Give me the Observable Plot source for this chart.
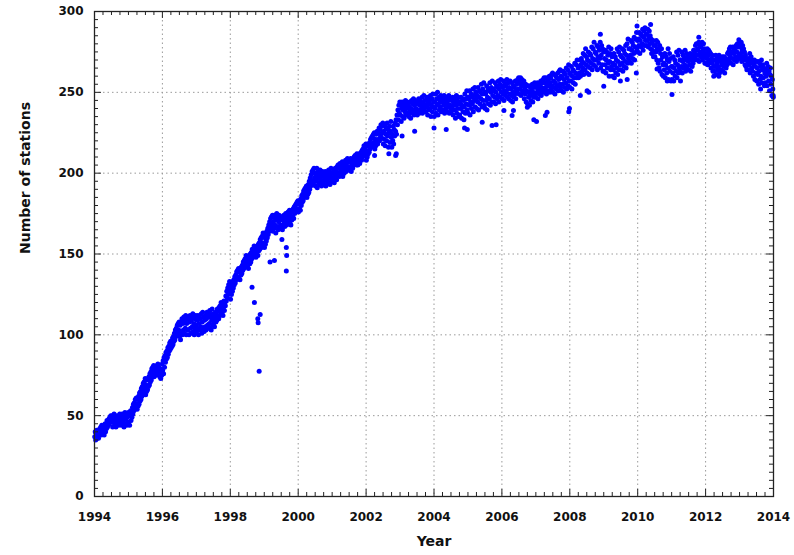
<!DOCTYPE html>
<html>
<head>
<meta charset="utf-8">
<script src="https://cdn.jsdelivr.net/npm/d3@7"></script>
<script src="https://cdn.jsdelivr.net/npm/@observablehq/plot@0.6"></script>
<style>
  html, body { margin: 0; padding: 0; background: #fff; }
</style>
</head>
<body>
<div id="chart"></div>
<script>
// Station counts, 72 readings per year (about every five days), one array per year.
const y1994 = [37,40,35,39,41,36,38,41,36,40,38,42,39,43,38,44,40,42, 41,44,38,43,45,40,44,42,47,43,46,44,48,45,49,46,50,47, 47,50,43,48,46,51,44,49,47,43,48,50,45,49,44,48,46,51, 46,50,44,48,51,45,50,47,43,49,52,45,48,51,44,49,46,52];
const y1995 = [46,51,44,50,53,47,52,49,55,51,57,53,58,54,60,55,61,57, 54,60,56,62,57,64,59,65,60,67,62,68,63,70,65,71,67,73, 63,69,65,72,66,73,68,74,69,76,71,77,72,79,74,80,75,81, 74,78,76,80,75,79,81,77,82,78,80,76,74,79,73,77,75,82];
const y1996 = [78,84,76,86,80,87,83,89,85,90,86,92,88,93,90,95,91,96, 92,96,93,98,94,99,96,101,97,103,99,104,100,106,101,107,103,108, 99,106,97,108,101,110,100,107,103,111,101,109,104,112,100,107,110,103, 103,110,100,108,112,104,109,101,111,105,113,102,107,100,110,104,112,106];
const y1997 = [102,109,104,112,100,107,111,103,110,105,113,101,108,114,104,111,102,109, 105,112,103,110,114,106,111,104,113,107,115,104,111,103,109,116,106,113, 107,112,105,110,114,108,113,109,116,111,115,110,117,112,118,114,120,116, 113,119,112,117,121,115,120,118,124,121,127,123,129,125,131,127,133,129];
const y1998 = [122,128,125,131,127,133,129,134,131,136,132,137,134,139,135,140,136,141, 135,139,134,140,137,142,138,143,140,145,141,146,142,147,144,149,145,148, 142,147,141,146,149,144,150,145,151,147,153,148,152,149,155,150,154,151, 148,153,150,155,149,156,152,157,153,159,155,160,154,161,157,163,156,162];
const y1999 = [154,160,156,163,158,164,160,166,162,168,164,170,166,172,165,173,168,174, 164,170,166,174,168,172,163,171,175,167,173,165,170,174,166,172,168,173, 166,171,165,173,168,174,169,167,172,175,170,168,174,171,176,169,173,177, 169,174,168,176,171,177,173,178,172,179,175,180,176,181,177,182,178,183];
const y2000 = [176,181,178,183,177,184,180,186,182,187,183,189,185,190,186,191,188,192, 185,190,187,193,188,195,190,197,192,199,193,201,195,202,194,203,197,200, 192,199,195,203,191,197,201,194,199,193,202,196,200,192,198,201,194,199, 193,198,196,201,192,197,200,195,199,194,202,197,201,193,198,203,196,200];
const y2001 = [195,200,197,202,194,199,203,198,201,196,204,199,205,200,203,198,206,201, 199,204,201,207,198,203,206,200,205,202,208,201,206,203,209,204,207,202, 202,207,204,209,201,206,208,203,207,205,210,206,211,207,209,205,212,208, 205,210,207,212,206,211,209,213,208,214,210,215,212,217,211,216,213,218];
const y2002 = [208,214,210,217,212,218,213,219,215,221,216,222,217,223,218,224,219,225, 215,221,217,224,219,226,218,225,221,228,220,227,223,230,222,229,225,231, 218,226,221,230,217,224,228,220,231,223,227,216,225,229,219,226,232,222, 216,224,220,229,218,227,223,231,226,233,224,236,230,239,233,242,237,244];
const y2003 = [236,242,232,240,244,235,239,243,234,241,238,245,236,242,240,244,237,243, 235,241,238,244,234,240,245,237,243,239,246,236,242,238,245,240,244,237, 236,243,239,246,237,242,245,238,244,240,247,237,243,241,248,239,245,242, 238,245,241,247,236,243,246,239,244,240,248,235,242,246,238,249,241,244];
const y2004 = [235,244,240,249,237,246,242,250,236,243,247,239,245,241,248,238,244,246, 239,245,242,248,237,244,246,240,247,238,243,245,241,248,237,242,246,240, 238,245,241,247,236,243,246,239,244,234,242,248,237,245,240,247,235,243, 236,244,240,247,234,242,246,238,245,233,241,249,237,246,243,251,239,247];
const y2005 = [237,246,242,251,236,244,249,240,247,243,252,238,248,245,253,241,250,246, 240,248,244,253,239,247,251,243,250,246,255,241,249,252,245,256,242,250, 240,249,245,254,239,247,252,243,251,246,256,242,250,253,244,257,248,252, 244,251,247,256,243,250,254,246,253,248,257,244,252,255,247,258,250,254];
const y2006 = [246,253,249,257,245,251,255,248,254,250,258,247,252,256,246,253,249,257, 245,252,248,256,244,250,254,247,253,249,257,246,251,255,250,258,252,259, 249,256,252,259,248,254,258,251,255,250,257,246,253,249,255,244,251,254, 243,250,247,254,242,249,253,245,251,248,255,244,250,253,247,256,249,254];
const y2007 = [247,253,250,256,246,252,255,249,254,251,257,248,253,256,250,258,252,259, 250,256,253,259,249,255,258,251,257,254,260,250,256,259,252,261,254,262, 250,257,253,261,249,256,260,252,259,254,262,251,258,263,255,264,253,260, 251,259,255,263,250,258,262,253,261,256,265,252,259,264,254,267,257,262];
const y2008 = [253,261,257,266,252,260,264,256,263,259,268,255,262,267,259,270,261,265, 259,266,262,270,260,267,271,263,269,265,274,261,268,273,264,277,267,272, 262,270,266,275,261,269,274,265,273,268,278,264,271,277,267,281,270,275, 266,274,270,279,264,272,278,268,276,271,281,265,273,279,267,277,263,275];
const y2009 = [263,271,267,276,262,270,275,265,273,268,278,260,269,274,264,277,266,272, 260,268,264,274,259,267,272,262,270,265,277,261,269,275,264,278,267,273, 264,272,268,277,263,271,276,266,274,269,279,265,273,280,268,283,271,277, 269,277,273,282,268,276,281,271,279,274,284,270,278,283,275,287,277,282];
const y2010 = [275,283,279,287,274,282,286,278,285,280,289,276,284,288,279,290,282,286, 279,286,282,289,278,284,288,280,285,277,283,274,281,276,282,272,279,275, 272,279,275,282,270,277,281,268,276,265,279,263,274,270,277,261,272,267, 260,268,264,274,259,267,272,262,270,265,277,258,269,274,263,271,257,266];
const y2011 = [258,266,262,272,257,265,270,260,268,263,275,259,267,273,262,276,265,270, 263,270,266,275,262,269,273,265,271,267,276,263,270,274,266,272,264,269, 264,271,267,274,263,270,273,266,272,268,276,270,275,271,279,273,280,276, 270,277,273,281,269,275,279,272,278,274,281,270,276,280,272,277,268,274];
const y2012 = [268,274,271,277,267,273,276,269,275,270,274,265,271,268,273,263,270,266, 263,270,266,273,261,268,272,264,270,266,273,262,269,271,264,270,267,272, 263,269,266,272,262,268,271,265,270,267,274,268,275,270,277,272,278,274, 268,275,271,278,267,274,277,270,276,272,279,269,275,280,271,278,273,279];
const y2013 = [271,278,274,281,269,276,279,272,277,270,275,267,273,266,271,264,270,268, 264,271,267,274,262,269,272,265,270,263,268,260,267,270,258,266,262,269, 257,265,261,269,255,263,268,258,266,260,270,256,264,267,259,265,254,262, 256,264,260,268,254,262,266,257,263,251,261,265,255,260,248,258,252,247];

// Stray readings that fall away from the main band
const strayYears  = [1998.64, 1998.71, 1998.81, 1998.82, 1998.88, 1998.85, 1999.17, 1999.30, 1999.52, 1999.65, 1999.65, 1999.66,
                     2002.25, 2002.67, 2002.87, 2002.89, 2003.06, 2003.43, 2004.00, 2004.36, 2004.90, 2004.98, 2005.42, 2005.71, 2005.83,
                     2006.06, 2006.30, 2006.34, 2006.75, 2006.94, 2007.02, 2007.28, 2007.33, 2007.97, 2007.99,
                     2008.31, 2008.51, 2008.56, 2008.90, 2009.00, 2009.49, 2009.69, 2009.96, 2009.98, 2010.38,
                     2010.57, 2010.87, 2011.01, 2011.26, 2011.80, 2012.24, 2012.39, 2012.98, 2013.62, 2013.99];
const strayCounts = [129.5, 120, 110, 107.5, 112.6, 77.5, 145, 146, 159, 139.5, 154, 149,
                     211, 212, 211, 212, 223, 226, 228, 227, 228, 227, 231.5, 229.5, 230,
                     238.8, 235.7, 238.8, 240.8, 233, 232, 235.7, 237.7, 238, 240,
                     248, 251, 250, 286, 253.7, 257, 258, 262, 291, 292,
                     264.5, 257, 248.6, 257, 284, 260, 260, 282.5, 252, 248];

// Axis ticks
const yearTicks = [1994, 1996, 1998, 2000, 2002, 2004, 2006, 2008, 2010, 2012, 2014];
const countTicks = [0, 50, 100, 150, 200, 250, 300];

const yearly = [y1994, y1995, y1996, y1997, y1998, y1999, y2000, y2001, y2002, y2003,
                y2004, y2005, y2006, y2007, y2008, y2009, y2010, y2011, y2012, y2013];
const samples = yearly.flatMap((vals, k) =>
  vals.map((n, i) => ({year: yearTicks[0] + k + (i + 0.5) / vals.length, n})));
const strays = strayYears.map((year, i) => ({year, n: strayCounts[i]}));

const W = 794, H = 555;
const mL = 94, mR = 21, mT = 11, mB = 59;
const innerW = W - mL - mR, innerH = H - mT - mB;

const minorYears = d3.range(yearTicks[0], yearTicks[yearTicks.length - 1] + 0.001, 0.25)
  .filter(t => Math.abs(t - Math.round(t / 2) * 2) > 0.01);
const minorCounts = d3.range(0, 301, 5).filter(v => v % 50 !== 0);

const innerYears = yearTicks.slice(1, -1);
const innerCounts = countTicks.slice(1, -1);
const tickColor = "#222";

const chart = Plot.plot({
  width: W,
  height: H,
  marginLeft: mL,
  marginRight: mR,
  marginTop: mT,
  marginBottom: mB,
  style: {fontFamily: "'DejaVu Sans', Verdana, sans-serif", background: "#fff", color: "#111"},
  x: {domain: [1994, 2014], axis: null},
  y: {domain: [0, 300], axis: null},
  marks: [
    // dotted grid
    Plot.ruleX(innerYears, {stroke: "#9a9a9a", strokeDasharray: "1.5,3", strokeWidth: 1}),
    Plot.ruleY(innerCounts, {stroke: "#9a9a9a", strokeDasharray: "1.5,3", strokeWidth: 1}),
    // station counts
    Plot.dot(samples, {x: "year", y: "n", r: 2.5, fill: "#0000ff", stroke: null}),
    Plot.dot(strays, {x: "year", y: "n", r: 2.5, fill: "#0000ff", stroke: null}),
    // inward ticks on all four sides
    Plot.tickX(yearTicks, {x: d => d, insetTop: innerH - 7, stroke: tickColor}),
    Plot.tickX(yearTicks, {x: d => d, insetBottom: innerH - 7, stroke: tickColor}),
    Plot.tickX(minorYears, {x: d => d, insetTop: innerH - 4, stroke: tickColor}),
    Plot.tickX(minorYears, {x: d => d, insetBottom: innerH - 4, stroke: tickColor}),
    Plot.tickY(countTicks, {y: d => d, insetRight: innerW - 7, stroke: tickColor}),
    Plot.tickY(countTicks, {y: d => d, insetLeft: innerW - 7, stroke: tickColor}),
    Plot.tickY(minorCounts, {y: d => d, insetRight: innerW - 4, stroke: tickColor}),
    Plot.tickY(minorCounts, {y: d => d, insetLeft: innerW - 4, stroke: tickColor}),
    Plot.frame({stroke: tickColor, strokeWidth: 1.3}),
    // tick labels
    Plot.axisX(yearTicks, {tickSize: 0, tickPadding: 16, tickFormat: d => String(d), fontSize: 12, fontWeight: "bold", label: null}),
    Plot.axisY(countTicks, {tickSize: 0, tickPadding: 11, tickFormat: d => String(d), fontSize: 12, fontWeight: "bold", label: null}),
    // axis titles
    Plot.text(["Year"], {frameAnchor: "bottom", dy: 49, fontSize: 14, fontWeight: "bold", fill: "#111"}),
    Plot.text(["Number of stations"], {frameAnchor: "left", dx: -69, rotate: -90, fontSize: 14, fontWeight: "bold", fill: "#111"})
  ]
});

document.getElementById("chart").appendChild(chart);
</script>
</body>
</html>
